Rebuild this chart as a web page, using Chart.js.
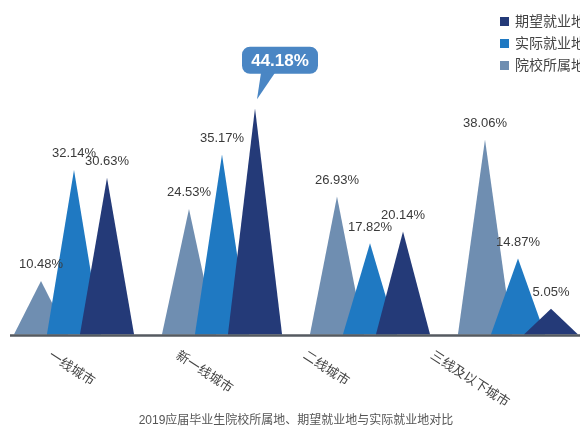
<!DOCTYPE html>
<html>
<head>
<meta charset="utf-8">
<script src="https://cdn.jsdelivr.net/npm/chart.js@4/dist/chart.umd.min.js"></script>
<style>
  html, body { margin: 0; padding: 0; background: #fff; overflow: hidden; }
  #wrap { position: relative; width: 592px; height: 438px; }
</style>
</head>
<body>
<div id="wrap"><canvas id="chart"></canvas></div>
<script>
const categories = ['一线城市', '新一线城市', '二线城市', '三线及以下城市'];
const seriesNames = ['院校所属地', '实际就业地', '期望就业地'];
const schoolValues = [10.48, 24.53, 26.93, 38.06];
const actualValues = [32.14, 35.17, 17.82, 14.87];
const expectValues = [30.63, 44.18, 20.14, 5.05];
const seriesColors = ['#6f8eb1', '#1f79c2', '#243a78'];
const chartTitle = '2019应届毕业生院校所属地、期望就业地与实际就业地对比';

const FONT = '"Liberation Sans", "Noto Sans CJK SC", sans-serif';

// draws each bar as a peak, plus labels, axis line, legend and the callout
const peaks = {
    id: 'peaks',
    afterDatasetsDraw(chart) {
        const ctx = chart.ctx;
        const base = chart.scales.y.getPixelForValue(0);
        const x = chart.scales.x;
        let maxVal = 0;
        chart.data.datasets.forEach(ds => ds.data.forEach(v => { if (v > maxVal) maxVal = v; }));

        ctx.save();
        chart.data.datasets.forEach((ds, di) => {
            const meta = chart.getDatasetMeta(di);
            ctx.fillStyle = seriesColors[di];
            meta.data.forEach(bar => {
                const half = bar.width * 0.82;
                ctx.beginPath();
                ctx.moveTo(bar.x - half, base);
                ctx.lineTo(bar.x, bar.y);
                ctx.lineTo(bar.x + half, base);
                ctx.closePath();
                ctx.fill();
            });
        });

        // value labels
        ctx.font = '13px ' + FONT;
        ctx.textAlign = 'center';
        ctx.textBaseline = 'middle';
        chart.data.datasets.forEach((ds, di) => {
            const meta = chart.getDatasetMeta(di);
            meta.data.forEach((bar, i) => {
                const v = ds.data[i];
                if (v === maxVal) {
                    // speech bubble
                    const bx = bar.x + 25, by = bar.y - 48;
                    const w = 76, h = 27;
                    ctx.fillStyle = '#4a86c4';
                    ctx.beginPath();
                    ctx.roundRect(bx - w / 2, by - h / 2, w, h, 8);
                    ctx.fill();
                    ctx.beginPath();
                    ctx.moveTo(bar.x + 6, by + h / 2 - 1);
                    ctx.lineTo(bar.x + 20, by + h / 2 - 1);
                    ctx.lineTo(bar.x + 2, bar.y - 9);
                    ctx.closePath();
                    ctx.fill();
                    ctx.fillStyle = '#fff';
                    ctx.font = 'bold 17px ' + FONT;
                    ctx.fillText(v.toFixed(2) + '%', bx, by + 1);
                    ctx.font = '13px ' + FONT;
                } else {
                    ctx.fillStyle = '#3a3a3a';
                    ctx.fillText(v.toFixed(2) + '%', bar.x, bar.y - 16);
                }
            });
        });

        // baseline
        ctx.strokeStyle = '#555a60';
        ctx.lineWidth = 2.5;
        ctx.beginPath();
        ctx.moveTo(10, base + 1);
        ctx.lineTo(chart.width, base + 1);
        ctx.stroke();

        // rotated category labels
        ctx.fillStyle = '#444';
        ctx.font = '13px ' + FONT;
        ctx.textAlign = 'left';
        categories.forEach((c, i) => {
            const tx = x.getPixelForTick(i) * 0.86 - 14;
            ctx.save();
            ctx.translate(tx, base + 20);
            ctx.rotate(33 * Math.PI / 180);
            ctx.fillText(c, 0, 0);
            ctx.restore();
        });

        // legend (reversed order)
        ctx.font = '14px ' + FONT;
        ctx.textBaseline = 'middle';
        for (let k = 0; k < seriesNames.length; k++) {
            const di = seriesNames.length - 1 - k;
            const ly = 22 + k * 22;
            ctx.fillStyle = seriesColors[di];
            ctx.fillRect(500, ly - 5, 9, 9);
            ctx.fillStyle = '#444';
            ctx.fillText(seriesNames[di], 515, ly);
        }
        ctx.restore();
    }
};

new Chart(document.getElementById('chart'), {
    type: 'bar',
    data: {
        labels: categories,
        datasets: [
            { label: seriesNames[0], data: schoolValues },
            { label: seriesNames[1], data: actualValues },
            { label: seriesNames[2], data: expectValues }
        ].map(d => Object.assign(d, {
            backgroundColor: 'rgba(0,0,0,0)',
            borderWidth: 0,
            barPercentage: 1,
            categoryPercentage: 0.669
        }))
    },
    options: {
        responsive: true,
        maintainAspectRatio: false,
        animation: false,
        layout: { padding: 0 },
        scales: {
            x: { display: false },
            y: { display: false, min: 0, max: 65.3 }
        },
        plugins: {
            legend: { display: false },
            tooltip: { enabled: false },
            title: {
                display: true,
                text: chartTitle,
                position: 'bottom',
                color: '#555',
                font: { family: FONT, size: 12, weight: 'normal' },
                padding: { top: 79, bottom: 10 }
            }
        }
    },
    plugins: [peaks]
});
</script>
</body>
</html>
